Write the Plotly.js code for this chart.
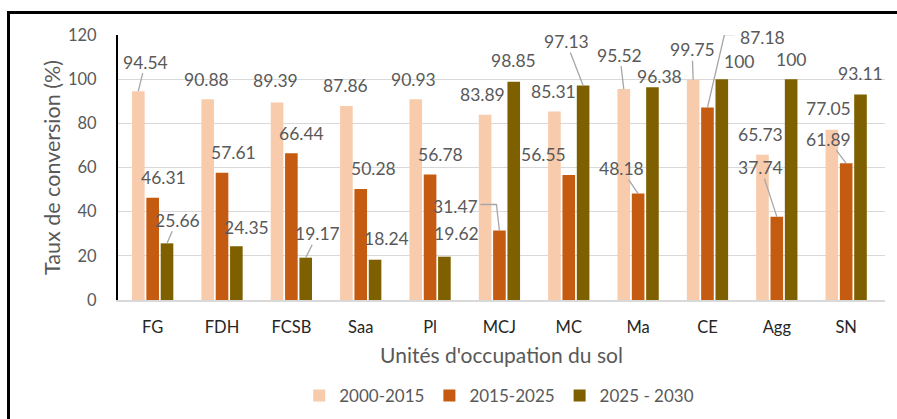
<!DOCTYPE html>
<html>
<head>
<meta charset="utf-8">
<script src="https://cdn.plot.ly/plotly-3.0.1.min.js"></script>
<style>
  html, body { margin: 0; padding: 0; background: #fff; }
  #wrap { position: relative; width: 897px; height: 419px; }
  #chart { width: 897px; height: 419px; }
  #frame { position: absolute; left: 7px; top: 11px; right: 0; bottom: 0;
           border-top: 3px solid #000; border-left: 3px solid #000; pointer-events: none; }
</style>
</head>
<body>
<div id="wrap"><div id="chart"></div><div id="frame"></div></div>
<script>
// ---- data ----
const categories = ["FG", "FDH", "FCSB", "Saa", "Pl", "MCJ", "MC", "Ma", "CE", "Agg", "SN"];
const seriesNames = ["2000-2015", "2015-2025", "2025 - 2030"];
const v2000_2015 = [94.54, 90.88, 89.39, 87.86, 90.93, 83.89, 85.31, 95.52, 99.75, 65.73, 77.05];
const v2015_2025 = [46.31, 57.61, 66.44, 50.28, 56.78, 31.47, 56.55, 48.18, 87.18, 37.74, 61.89];
const v2025_2030 = [25.66, 24.35, 19.17, 18.24, 19.62, 98.85, 97.13, 96.38, 100, 100, 93.11];
const yTicks = [0, 20, 40, 60, 80, 100, 120];

// ---- style ----
const colors = ["#F8CBAD", "#C55A11", "#7F6000"];
const FONT = "Lato, 'Open Sans', sans-serif";
const LEADER = "#A6A6A6";
const bargap = 0.38, bargroupgap = 0.12;
// label offsets (px, dx right, dy down); mode: 0 plain, 1 straight leader, 2 elbow leader path
const labelOffsets = [
  [[7,-29,1],[-1,-20,0],[-2,-22,0],[-1,-20,0],[-2,-20,0],[-3,-20,0],[-1,-20,0],[-4,-34,1],[-1,-30,1],[-2,-20,0],[-3,-21,0]],
  [[11,-20,0],[11,-20,0],[10,-20,0],[13,-20,0],[10,-20,0],[-44,-24,2],[-25,-21,0],[-17,-25,1],[55,-70,2],[-16,-49,1],[-18,-24,1]],
  [[10,-23,1],[10,-19,0],[12,-24,1],[11,-21,0],[12,-23,0],[0,-21,0],[-17,-44,1],[7,-11,0],[17,-18,0],[0,-20,0],[0,-21,0]]
];
// elbow leader paths in pixels relative to bar top (y up), keyed "series,index"
const elbowPaths = {
  "1,5": "M0,0 L-3,26 L-19,26",
  "1,8": "M0,0 L17,73 L27,73"
};

const allSeries = [v2000_2015, v2015_2025, v2025_2030];
const traces = allSeries.map((vals, t) => ({
  type: "bar",
  name: seriesNames[t],
  x: categories,
  y: vals,
  marker: { color: colors[t] },
  hoverinfo: "x+y+name"
}));

const slot = (1 - bargap) / 3;
const annotations = [];
const shapes = [];
allSeries.forEach((vals, t) => {
  vals.forEach((v, i) => {
    const [dx, dy, mode] = labelOffsets[t][i];
    const xpos = i + (t - 1) * slot;
    const base = {
      x: xpos, y: v, xref: "x", yref: "y",
      text: String(v),
      font: { family: FONT, size: 17.5, color: "#595959" }
    };
    if (mode === 1) {
      annotations.push(Object.assign(base, {
        showarrow: true, ax: dx, ay: dy, axref: "pixel", ayref: "pixel",
        arrowhead: 0, arrowwidth: 1.3, arrowcolor: LEADER, standoff: 0, borderpad: 0
      }));
    } else {
      annotations.push(Object.assign(base, {
        showarrow: false, xanchor: "center", yanchor: "middle",
        xshift: dx, yshift: -dy
      }));
      if (mode === 2) {
        shapes.push({
          type: "path", xref: "x", yref: "y",
          xsizemode: "pixel", ysizemode: "pixel",
          xanchor: xpos, yanchor: v,
          path: elbowPaths[t + "," + i],
          line: { color: LEADER, width: 1.3 }
        });
      }
    }
  });
});

const layout = {
  width: 897, height: 419,
  margin: { l: 118, r: 12, t: 35, b: 119, autoexpand: false },
  paper_bgcolor: "#fff", plot_bgcolor: "#fff",
  barmode: "group", bargap: bargap, bargroupgap: bargroupgap,
  showlegend: true,
  legend: {
    orientation: "h", x: 0.497, xanchor: "center", y: -0.362, yanchor: "middle",
    font: { family: FONT, size: 17, color: "#595959" },
    itemwidth: 30, traceorder: "normal"
  },
  xaxis: {
    type: "category", automargin: false,
    showgrid: false, zeroline: false,
    showline: true, linecolor: "#D9D9D9", linewidth: 1.5,
    ticks: "", ticklabelstandoff: 12,
    tickfont: { family: FONT, size: 16.5, color: "#262626" },
    title: { text: "Unités d'occupation du sol", standoff: 12,
             font: { family: FONT, size: 21, color: "#595959" } }
  },
  yaxis: {
    range: [0, 120], tickvals: yTicks, ticktext: yTicks.map(String),
    automargin: false,
    showgrid: true, gridcolor: "#D9D9D9", gridwidth: 1.3,
    zeroline: false, showline: true, linecolor: "#000", linewidth: 2,
    ticks: "", ticklabelstandoff: 16,
    tickfont: { family: FONT, size: 16.5, color: "#595959" },
    title: { text: "Taux de conversion (%)", standoff: 1,
             font: { family: FONT, size: 21.5, color: "#595959" } }
  },
  annotations: annotations,
  shapes: shapes
};

Plotly.newPlot("chart", traces, layout, { displayModeBar: false, staticPlot: true });
</script>
</body>
</html>
